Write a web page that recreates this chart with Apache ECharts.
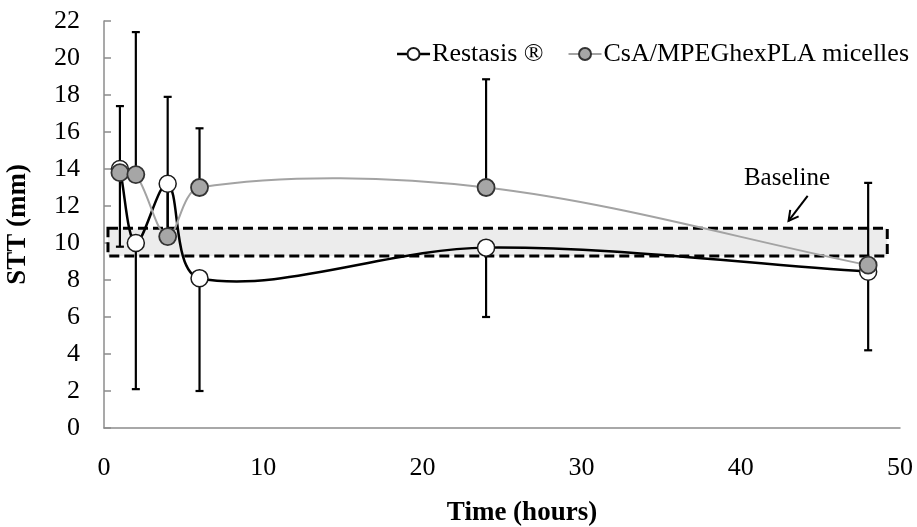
<!DOCTYPE html>
<html><head><meta charset="utf-8">
<script src="https://cdn.jsdelivr.net/npm/echarts@6/dist/echarts.min.js"></script>
<style>html,body{margin:0;padding:0;background:#fff}#c{width:917px;height:527px}</style>
</head><body><div id="c"></div>
<script>
// ---- data ----
const times = [1, 2, 4, 6, 24, 48];
const restasis = [14.0, 10.0, 13.2, 8.1, 9.75, 8.45];
const csa = [13.8, 13.7, 10.35, 13.0, 13.0, 8.8];
const restasisLow = [9.8, 2.1, 10.6, 2.0, 6.0, 4.2];
const csaHigh = [17.4, 21.4, 17.9, 16.2, 18.85, 13.25];
const baselineX = [0.25, 49.2];
const baselineY = [9.3, 10.8];
const baselineText = 'Baseline';
const baselineTextAt = [42.9, 13.5];
const arrowFrom = [44.2, 12.55];
const arrowTo = [43.0, 11.2];
const seriesNames = ['Restasis ®', 'CsA/MPEGhexPLA micelles'];
const axisNames = ['Time (hours)', 'STT (mm)'];

const FONT = 'Liberation Serif';
const chart = echarts.init(document.getElementById('c'), null, {renderer: 'canvas'});

function errBar(vals, bounds) {
  return times.map((t, i) => [t, vals[i], bounds[i]]);
}
function renderErr(params, api) {
  const p0 = api.coord([api.value(0), api.value(1)]);
  const p1 = api.coord([api.value(0), api.value(2)]);
  const cap = 4;
  return {
    type: 'group',
    children: [
      {type: 'line', shape: {x1: p0[0], y1: p0[1], x2: p1[0], y2: p1[1]}, style: {stroke: '#000', lineWidth: 2.2}},
      {type: 'line', shape: {x1: p1[0] - cap, y1: p1[1], x2: p1[0] + cap, y2: p1[1]}, style: {stroke: '#000', lineWidth: 2.2}}
    ]
  };
}
// segments carrying their neighbours: [t-1,v-1, t0,v0, t1,v1, t2,v2]
function segments(vals) {
  const out = [];
  for (let i = 0; i < times.length - 1; i++) {
    const a = Math.max(i - 1, 0), d = Math.min(i + 2, times.length - 1);
    out.push([times[a], vals[a], times[i], vals[i], times[i + 1], vals[i + 1], times[d], vals[d]]);
  }
  return out;
}
function makeCurveRenderer(color, width) {
  return function (params, api) {
    const p0 = api.coord([api.value(0), api.value(1)]);
    const p1 = api.coord([api.value(2), api.value(3)]);
    const p2 = api.coord([api.value(4), api.value(5)]);
    const p3 = api.coord([api.value(6), api.value(7)]);
    const dist = (a, b) => Math.hypot(a[0] - b[0], a[1] - b[1]);
    const d01 = dist(p0, p1), d12 = dist(p1, p2), d23 = dist(p2, p3);
    const r1 = d12 / (d01 + d12) / 3, r2 = d12 / (d12 + d23) / 3;
    const c1 = [p1[0] + (p2[0] - p0[0]) * r1, p1[1] + (p2[1] - p0[1]) * r1];
    const c2 = [p2[0] - (p3[0] - p1[0]) * r2, p2[1] - (p3[1] - p1[1]) * r2];
    return {
      type: 'bezierCurve',
      shape: {x1: p1[0], y1: p1[1], x2: p2[0], y2: p2[1], cpx1: c1[0], cpy1: c1[1], cpx2: c2[0], cpy2: c2[1]},
      style: {stroke: color, lineWidth: width, fill: null}
    };
  };
}

const option = {
  backgroundColor: '#fff',
  animation: false,
  grid: {left: 104, right: 17, top: 21, bottom: 99, containLabel: false, outerBoundsMode: 'none'},
  legend: {
    data: [
      {name: seriesNames[0], lineStyle: {opacity: 1, color: '#000', width: 2.5}},
      {name: seriesNames[1], lineStyle: {opacity: 1, color: '#a3a3a3', width: 2}}
    ],
    right: 3, top: 36,
    itemWidth: 33, itemHeight: 15, itemGap: 24,
    textStyle: {fontFamily: FONT, fontSize: 26, color: '#000', padding: [0, 0, 0, -3]},
    selectedMode: false
  },
  xAxis: {
    type: 'value', min: 0, max: 50, interval: 10,
    name: axisNames[0], nameLocation: 'middle', nameGap: 72,
    nameTextStyle: {fontFamily: FONT, fontSize: 27, fontWeight: 'bold', color: '#000', padding: [0, 0, 0, 40]},
    axisLine: {show: true, lineStyle: {color: '#8c8c8c', width: 1.5}},
    axisTick: {show: false},
    splitLine: {show: false},
    axisLabel: {fontFamily: FONT, fontSize: 26, color: '#000', margin: 27}
  },
  yAxis: {
    type: 'value', min: 0, max: 22, interval: 2,
    name: axisNames[1], nameLocation: 'middle', nameGap: 72,
    nameTextStyle: {fontFamily: FONT, fontSize: 27, fontWeight: 'bold', color: '#000'},
    axisLine: {show: true, lineStyle: {color: '#8c8c8c', width: 1.5}},
    axisTick: {show: true, inside: true, length: 7, lineStyle: {color: '#8c8c8c', width: 1.5}},
    splitLine: {show: false},
    axisLabel: {fontFamily: FONT, fontSize: 26, color: '#000', margin: 24}
  },
  series: [
    {
      type: 'line', name: 'baselineBox', silent: true, data: [], z: 1,
      markArea: {
        silent: true,
        itemStyle: {color: '#ececec', borderColor: '#000', borderWidth: 3, borderType: [10, 5]},
        data: [[{coord: [baselineX[0], baselineY[1]]}, {coord: [baselineX[1], baselineY[0]]}]]
      }
    },
    {
      type: 'custom', name: 'errR', silent: true, z: 3,
      renderItem: renderErr, data: errBar(restasis, restasisLow)
    },
    {
      type: 'custom', name: 'errC', silent: true, z: 3,
      renderItem: renderErr, data: errBar(csa, csaHigh)
    },
    {
      type: 'custom', name: 'curveR', silent: true, z: 4, clip: false,
      encode: {x: 2, y: 3},
      renderItem: makeCurveRenderer('#000', 2.5), data: segments(restasis)
    },
    {
      type: 'custom', name: 'curveC', silent: true, z: 4, clip: false,
      encode: {x: 2, y: 3},
      renderItem: makeCurveRenderer('#a3a3a3', 2), data: segments(csa)
    },
    {
      type: 'line', name: seriesNames[0], z: 5,
      data: times.map((t, i) => [t, restasis[i]]),
      symbol: 'circle', symbolSize: 17,
      lineStyle: {color: '#000', width: 2.5, opacity: 0},
      itemStyle: {color: '#fff', borderColor: '#1a1a1a', borderWidth: 1.5}
    },
    {
      type: 'line', name: seriesNames[1], z: 6,
      data: times.map((t, i) => [t, csa[i]]),
      symbol: 'circle', symbolSize: 17,
      lineStyle: {color: '#a3a3a3', width: 2, opacity: 0},
      itemStyle: {color: '#a6a6a6', borderColor: '#333', borderWidth: 1.8}
    },
    {
      type: 'custom', name: 'baselineNote', silent: true, z: 7,
      data: [[baselineTextAt[0], baselineTextAt[1]]],
      renderItem: function (params, api) {
        const tp = api.coord(baselineTextAt);
        const a = api.coord(arrowFrom);
        const b = api.coord(arrowTo);
        const ang = Math.atan2(b[1] - a[1], b[0] - a[0]);
        const h = 11, spread = 0.5;
        const h1 = [b[0] - h * Math.cos(ang - spread), b[1] - h * Math.sin(ang - spread)];
        const h2 = [b[0] - h * Math.cos(ang + spread), b[1] - h * Math.sin(ang + spread)];
        return {
          type: 'group',
          children: [
            {type: 'text', x: tp[0], y: tp[1], style: {text: baselineText, fontFamily: FONT, fontSize: 25, fill: '#000', align: 'center', verticalAlign: 'middle'}},
            {type: 'line', shape: {x1: a[0], y1: a[1], x2: b[0], y2: b[1]}, style: {stroke: '#000', lineWidth: 2}},
            {type: 'polyline', shape: {points: [h1, b, h2]}, style: {stroke: '#000', lineWidth: 2, fill: null}}
          ]
        };
      }
    }
  ]
};
chart.setOption(option);
</script>
</body></html>
